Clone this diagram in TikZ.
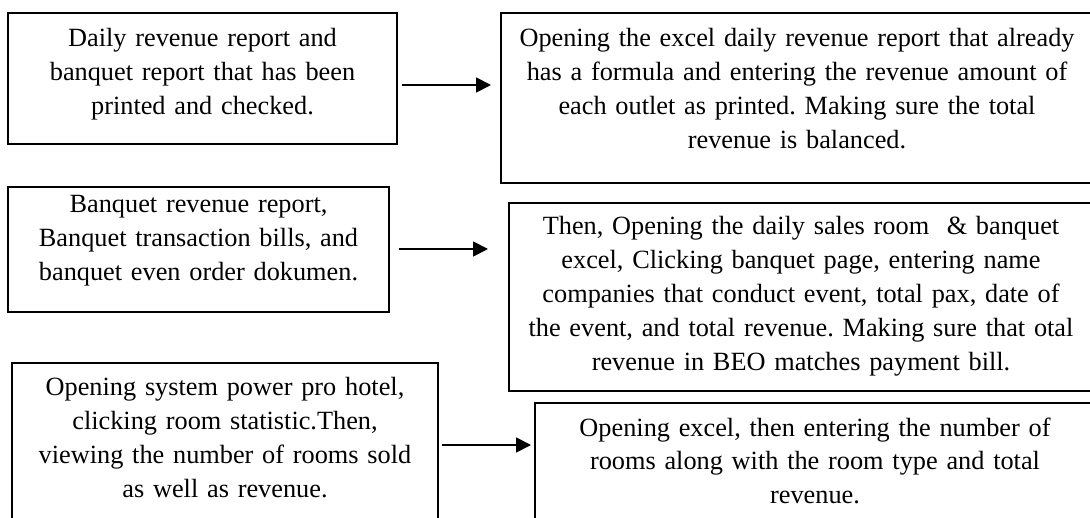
\documentclass[tikz,border=0pt]{standalone}
\usepackage{fontspec}
\setmainfont{Liberation Serif}
\usetikzlibrary{arrows.meta}
\frenchspacing
\begin{document}
\begin{tikzpicture}[x=1pt,y=-1pt,
  box/.style={draw, line width=2.2pt, rectangle, anchor=north west, inner sep=0pt, outer sep=0pt},
  txt/.style={anchor=base, align=center, text width=640pt, inner sep=0pt,
    font=\fontsize{26.3pt}{34pt}\selectfont},
  arr/.style={line width=1.8pt, -{Triangle[length=15pt,width=15pt]}}]
\clip (0,0) rectangle (1090,518);
\fill[white] (0,0) rectangle (1090,518);

% source documents (left column)
\node[box, minimum width=389pt, minimum height=131pt] (A1) at (8,13) {};
\node[box, minimum width=381pt, minimum height=125pt] (A2) at (8,187) {};
\node[box, minimum width=426pt, minimum height=200pt] (A3) at (12,363) {};

% processing steps (right column)
\node[box, minimum width=700pt, minimum height=170pt] (B1) at (501,13) {};
\node[box, minimum width=700pt, minimum height=188pt] (B2) at (509,203) {};
\node[box, minimum width=700pt, minimum height=200pt] (B3) at (535,403) {};

% box texts
\node[txt] (tA1) at (202.5,47) {Daily revenue report and\\banquet report that has been\\printed and checked.};
\node[txt] (tB1) at (797,46.5) {Opening the excel daily revenue report that already\\has a formula and entering the revenue amount of\\each outlet as printed. Making sure the total\\revenue is balanced.};
\node[txt] (tA2) at (198.5,213) {Banquet revenue report,\\Banquet transaction bills, and\\banquet even order dokumen.};
\node[txt] (tB2) at (801,235) {Then, Opening the daily sales room\ \ \& banquet\\excel, Clicking banquet page, entering name\\companies that conduct event, total pax, date of\\the event, and total revenue. Making sure that otal\\revenue in BEO matches payment bill.};
\node[txt] (tA3) at (225,396) {Opening system power pro hotel,\\clicking room statistic.Then,\\viewing the number of rooms sold\\as well as revenue.};
\node[txt] (tB3) at (815,436) {Opening excel, then entering the number of\\rooms along with the room type and total\\revenue.};

% connectors
\draw[arr] ([xshift=5pt,yshift=-72pt]A1.north east) -- ([xshift=-10pt,yshift=-72pt]B1.north west);
\draw[arr] ([xshift=10pt,yshift=-62pt]A2.north east) -- ([xshift=-21pt,yshift=-46pt]B2.north west);
\draw[arr] ([xshift=4pt,yshift=-82pt]A3.north east) -- ([xshift=-4pt,yshift=-42pt]B3.north west);
\end{tikzpicture}
\end{document}
